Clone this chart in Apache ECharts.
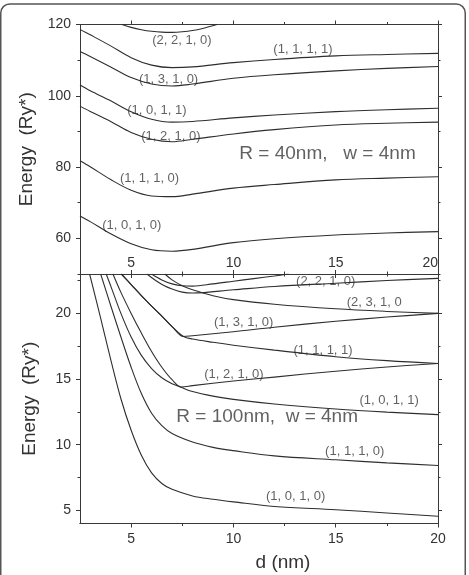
<!DOCTYPE html>
<html>
<head>
    <meta charset="utf-8">
    <title>Energy vs d</title>
    <script src="https://cdn.jsdelivr.net/npm/echarts@6/dist/echarts.min.js"></script>
    <style>
        html, body { margin: 0; padding: 0; background: #fff; }
    </style>
</head>
<body>
    <div id="main" style="width: 469px;height:575px;"></div>
    <script type="text/javascript">
var myChart = echarts.init(document.getElementById('main'));

// ticks
var xMajor = [5, 10, 15, 20];
var xMinor = [7.5, 12.5, 17.5];
var topYMajor = [60, 80, 100, 120];
var topYMinor = [50, 70, 90, 110];
var botYMajor = [5, 10, 15, 20];
var botYMinor = [7.5, 12.5, 17.5, 22.5];

// upper panel, R = 40nm
var topD = [2.5, 3, 4, 5, 6, 7, 8, 10, 12, 15, 17.5, 20];
var top1010 = [66.3, 64.7, 61.3, 58.5, 56.8, 56.4, 56.9, 58.8, 59.9, 60.95, 61.5, 61.9];
var top1110 = [81.8, 80.1, 76.5, 73.5, 71.9, 71.7, 72.4, 74.1, 75.1, 76.4, 76.9, 77.3];
var top1210 = [97.1, 95.6, 92.8, 89.7, 87.8, 87.1, 87.8, 89.3, 90.5, 91.8, 92.3, 92.6];
var top1011 = [103.0, 101.4, 98.6, 95.5, 93.4, 92.6, 92.8, 93.8, 94.6, 95.55, 96.1, 96.5];
var top1310 = [112.4, 111.0, 108.1, 105.1, 103.3, 102.75, 103.3, 104.9, 105.9, 107.0, 107.7, 108.2];
var top1111 = [118.6, 117.1, 114.0, 110.7, 108.6, 107.9, 108.1, 109.3, 110.2, 111.2, 111.6, 111.9];
var top2210 = [[4.55, 120], [5, 119.2], [5.5, 118.55], [6, 118.1], [6.5, 117.85], [7, 117.8],
               [7.5, 117.95], [8, 118.3], [8.5, 118.9], [9.2, 120]];

// lower panel, R = 100nm
var bot1010 = [[2.97, 23], [3.5, 19.7], [4, 16.5], [4.5, 13.5], [5, 11.1], [5.5, 9.2], [6, 7.85],
               [6.5, 7.05], [7, 6.6], [8, 6.1], [9, 5.85], [10, 5.65], [12, 5.3], [15, 5.05],
               [17.5, 4.8], [20, 4.55]];
var bot1110 = [[3.51, 23], [4, 20.6], [4.5, 18.2], [5, 15.9], [5.5, 13.9], [6, 12.4], [6.5, 11.45],
               [7, 10.85], [8, 10.2], [9, 9.8], [10, 9.55], [12, 9.15], [15, 8.85], [17.5, 8.62],
               [20, 8.42]];
var bot1011 = [[3.78, 23], [4, 22.1], [4.5, 20.0], [5, 18.2], [5.5, 16.8], [6, 15.8], [6.5, 15.1],
               [7, 14.65], [7.4, 14.4], [8, 14.05], [9, 13.7], [10, 13.45], [12, 13.1], [15, 12.72],
               [17.5, 12.48], [20, 12.29]];
var bot1210 = [[4.11, 23], [4.5, 21.6], [5, 20.0], [5.5, 18.5], [6, 17.1], [6.5, 15.9], [7, 14.95],
               [7.45, 14.4], [8, 14.5], [10, 14.85], [12, 15.15], [15, 15.6], [17.5, 15.92],
               [20, 16.18]];
var bot1111 = [[4.52, 23], [5, 22.2], [5.5, 21.35], [6, 20.55], [6.5, 19.8], [7, 19.0],
               [7.56, 18.24], [8, 18.05], [9, 17.8], [10, 17.58], [12, 17.2], [15, 16.7],
               [17.5, 16.4], [20, 16.18]];
var bot1310 = [[4.52, 23], [5, 22.2], [5.5, 21.35], [6, 20.55], [6.5, 19.8], [7, 19.0],
               [7.56, 18.24], [8, 18.3], [10, 18.6], [12, 18.95], [15, 19.4], [17.5, 19.72],
               [20, 20.0]];
var bot2210 = [[5.77, 23], [6.2, 22.5], [6.6, 22.12], [7, 21.85], [7.5, 21.62], [8, 21.55],
               [10, 21.8], [12, 22.05], [15, 22.3], [17.5, 22.5], [20, 22.67]];
var botUpper = [[6.0, 23], [6.5, 22.55], [7, 22.25], [7.5, 22.1], [8, 22.08], [9, 22.25],
                [10, 22.45], [11, 22.65], [12, 22.85], [12.7, 23]];
var bot2310 = [[6.65, 23], [7, 22.55], [7.5, 22.1], [8, 21.8], [9, 21.35], [10, 21.05],
               [12, 20.7], [15, 20.35], [17.5, 20.15], [20, 20.0]];

// curve labels: [d, energy, text]
var topNotes = [
    [7.48, 115.5, '(2, 2, 1, 0)'],
    [13.4, 113.1, '(1, 1, 1, 1)'],
    [6.83, 104.6, '(1, 3, 1, 0)'],
    [6.26, 95.8, '(1, 0, 1, 1)'],
    [6.94, 88.7, '(1, 2, 1, 0)'],
    [5.9, 76.9, '(1, 1, 1, 0)'],
    [5.03, 63.5, '(1, 0, 1, 0)']
];
var topCaption = [[14.6, 83.6, 'R = 40nm,   w = 4nm']];
var botNotes = [
    [14.51, 22.41, '(2, 2, 1, 0)'],
    [16.88, 20.81, '(2, 3, 1, 0'],
    [10.5, 19.28, '(1, 3, 1, 0)'],
    [14.38, 17.2, '(1, 1, 1, 1)'],
    [10.02, 15.37, '(1, 2, 1, 0)'],
    [17.61, 13.38, '(1, 0, 1, 1)'],
    [15.93, 9.51, '(1, 1, 1, 0)'],
    [13.04, 6.05, '(1, 0, 1, 0)']
];
var botCaption = [[11.65, 12.11, 'R = 100nm,  w = 4nm']];

var FONT = 'Liberation Sans, Arial, sans-serif';
var INK = '#383838';

function zip(xs, ys) {
    return xs.map(function (x, i) { return [x, ys[i]]; });
}

// one axis = a line + ticks at given values (labels optional)
function axis(grid, pos, range, ticks, len, label) {
    return {
        type: 'value', gridIndex: grid, position: pos,
        min: range[0], max: range[1],
        axisLine: { show: true, onZero: false, lineStyle: { color: INK, width: 1 } },
        axisTick: { show: true, inside: false, length: len, customValues: ticks,
                    lineStyle: { color: INK, width: 1 } },
        axisLabel: label || { show: false },
        splitLine: { show: false }
    };
}

var tickFont = { fontFamily: FONT, fontSize: 14, color: '#333' };
var xr = [2.5, 20], topR = [50, 120], botR = [4, 23];

var xAxes = [
    // top panel
    axis(0, 'bottom', xr, xMajor, 4, Object.assign({ show: true, inside: true, margin: 4,
        customValues: xMajor, alignMaxLabel: 'right' }, tickFont)),
    axis(0, 'bottom', xr, xMinor, 2.5),
    axis(0, 'top', xr, xMajor, 4),
    axis(0, 'top', xr, xMinor, 2.5),
    // bottom panel
    axis(1, 'bottom', xr, xMajor, 4, Object.assign({ show: true, margin: 9,
        customValues: xMajor }, tickFont)),
    axis(1, 'bottom', xr, xMinor, 2.5),
    axis(1, 'top', xr, xMajor, 4),
    axis(1, 'top', xr, xMinor, 2.5)
];
var yAxes = [
    axis(0, 'left', topR, topYMajor, 4, Object.assign({ show: true, margin: 9,
        customValues: topYMajor }, tickFont)),
    axis(0, 'left', topR, topYMinor, 2.5),
    axis(0, 'right', topR, topYMajor, 4),
    axis(0, 'right', topR, topYMinor, 2.5),
    axis(1, 'left', botR, botYMajor, 4, Object.assign({ show: true, margin: 9,
        customValues: botYMajor }, tickFont)),
    axis(1, 'left', botR, botYMinor, 2.5),
    axis(1, 'right', botR, botYMajor, 4),
    axis(1, 'right', botR, botYMinor, 2.5)
];
[yAxes[0], yAxes[4]].forEach(function (a) {
    a.name = 'Energy  (Ry*)';
    a.nameLocation = 'middle';
    a.nameGap = 41;
    a.nameTextStyle = { fontFamily: FONT, fontSize: 19, color: '#333' };
});

function curve(data, panel) {
    return {
        type: 'line', data: data,
        xAxisIndex: panel * 4, yAxisIndex: panel * 4,
        showSymbol: false, smooth: 0.35,
        lineStyle: { color: '#2e2e2e', width: 1.1 },
        silent: true
    };
}

function notes(list, panel, size) {
    return {
        type: 'scatter', xAxisIndex: panel * 4, yAxisIndex: panel * 4,
        symbolSize: 1, itemStyle: { color: 'transparent' }, silent: true,
        data: list.map(function (n) { return { value: [n[0], n[1]], name: n[2] }; }),
        label: { show: true, position: 'inside', formatter: '{b}',
                 fontFamily: FONT, fontSize: size, color: '#3a3a3a' }
    };
}

option = {
    backgroundColor: '#fff',
    animation: false,
    grid: [
        { left: 80, right: 31, top: 24.5, height: 249.5 },
        { left: 80, right: 31, top: 274, height: 249.5 }
    ],
    xAxis: xAxes,
    yAxis: yAxes,
    graphic: [
        { type: 'rect', shape: { x: 0.75, y: 4, width: 464.5, height: 640, r: 9 },
          style: { fill: null, stroke: '#555', lineWidth: 1.5 }, silent: true },
        { type: 'text', x: 283, y: 563,
          style: { text: 'd (nm)', fontFamily: FONT, fontSize: 19, fill: '#333',
                   textAlign: 'center', textVerticalAlign: 'middle' } }
    ],
    series: [
        curve(zip(topD, top1010), 0),
        curve(zip(topD, top1110), 0),
        curve(zip(topD, top1210), 0),
        curve(zip(topD, top1011), 0),
        curve(zip(topD, top1310), 0),
        curve(zip(topD, top1111), 0),
        curve(top2210, 0),
        curve(bot1010, 1),
        curve(bot1110, 1),
        curve(bot1011, 1),
        curve(bot1210, 1),
        curve(bot1111, 1),
        curve(bot1310, 1),
        curve(bot2210, 1),
        curve(botUpper, 1),
        curve(bot2310, 1),
        notes(topNotes, 0, 13),
        notes(topCaption, 0, 19),
        notes(botNotes, 1, 13),
        notes(botCaption, 1, 19)
    ]
};

myChart.setOption(option);
    </script>
</body>
</html>
